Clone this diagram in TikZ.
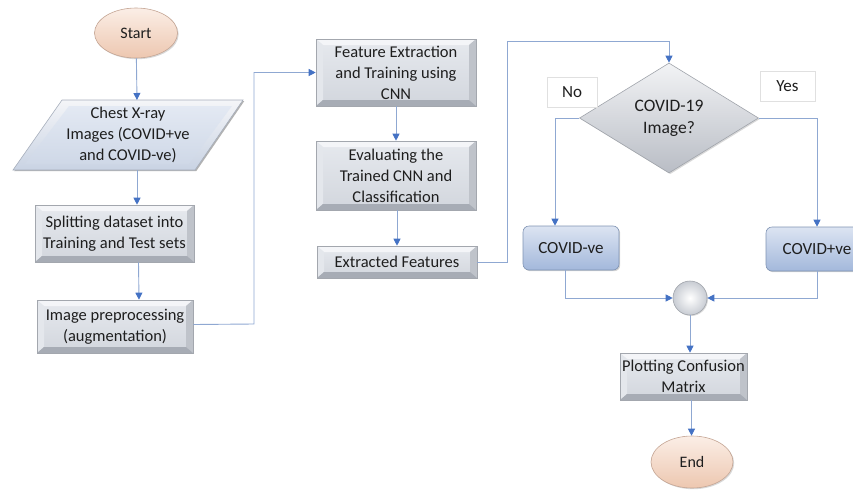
\documentclass[tikz,border=0pt]{standalone}
\usepackage{fontspec}
\setmainfont{Carlito}
\usetikzlibrary{shapes.geometric,arrows.meta,shadows}
\definecolor{lineblue}{HTML}{8FA8D2}
\definecolor{arrowblue}{HTML}{4472C4}
\definecolor{bvtop}{HTML}{F4F5F8}
\definecolor{bvleft}{HTML}{E4E7EC}
\definecolor{bvright}{HTML}{BFC3CA}
\definecolor{bvbot}{HTML}{A7ACB5}
\definecolor{faceA}{HTML}{E6E9EE}
\definecolor{faceB}{HTML}{D2D6DD}
\definecolor{boxline}{HTML}{A3A7AE}
\definecolor{txt}{HTML}{1E1E1E}
\definecolor{bluetop}{HTML}{DCE4F2}
\definecolor{bluebot}{HTML}{A3B8DB}
\definecolor{blueline}{HTML}{7F93B3}
\definecolor{peachA}{HTML}{FBEEE6}
\definecolor{peachB}{HTML}{EDC7B0}
\definecolor{peachline}{HTML}{C4A594}
\definecolor{paraB}{HTML}{C9D3E3}
\definecolor{paraFA}{HTML}{E3E9F3}
\definecolor{paraFB}{HTML}{CFD8E7}
\definecolor{paraline}{HTML}{A6AEBB}
\definecolor{diaA}{HTML}{F2F3F5}
\definecolor{diaB}{HTML}{B9BDC5}
\definecolor{diline}{HTML}{A0A4AB}
\definecolor{circB}{HTML}{C8CCD3}
\tikzset{
  bevel/.style={path picture={
    \path (path picture bounding box.north west) coordinate (bnw)
          (path picture bounding box.north east) coordinate (bne)
          (path picture bounding box.south west) coordinate (bsw)
          (path picture bounding box.south east) coordinate (bse);
    \fill[#1top] (bnw) -- (bne) -- ([shift={(-7pt,-6pt)}]bne) -- ([shift={(7pt,-6pt)}]bnw) -- cycle;
    \fill[#1left] (bnw) -- ([shift={(7pt,-6pt)}]bnw) -- ([shift={(7pt,6pt)}]bsw) -- (bsw) -- cycle;
    \fill[#1right] (bne) -- ([shift={(-7pt,-6pt)}]bne) -- ([shift={(-7pt,6pt)}]bse) -- (bse) -- cycle;
    \fill[#1bot] (bsw) -- ([shift={(7pt,6pt)}]bsw) -- ([shift={(-7pt,6pt)}]bse) -- (bse) -- cycle;
  }},
  boxfont/.style={font=\fontsize{16.5pt}{21pt}\selectfont},
  procbox/.style={rectangle, draw=boxline, line width=0.6pt, top color=faceA, bottom color=faceB,
    bevel=bv, align=center, text=txt, boxfont, inner sep=0pt,
    drop shadow={shadow xshift=1.2pt, shadow yshift=-1.2pt, opacity=0.35}},
  bluebox/.style={rectangle, rounded corners=6pt, draw=blueline, line width=0.6pt, top color=bluetop,
    bottom color=bluebot, align=center, text=txt, font=\fontsize{17pt}{21pt}\selectfont, inner sep=0pt,
    drop shadow={shadow xshift=1.2pt, shadow yshift=-1.2pt, opacity=0.35}},
  term/.style={ellipse, draw=peachline, line width=0.6pt, top color=peachA, bottom color=peachB,
    text=txt, font=\fontsize{16pt}{19pt}\selectfont, inner sep=0pt,
    drop shadow={shadow xshift=1.2pt, shadow yshift=-1.2pt, opacity=0.3}},
  lab/.style={rectangle, draw=black!12, line width=0.6pt, fill=white, text=txt,
    font=\fontsize{17pt}{20pt}\selectfont, inner sep=0pt},
  conn/.style={draw=lineblue, line width=0.9pt, -{Triangle[length=7pt,width=7pt,color=arrowblue]}},
}
\begin{document}
\begin{tikzpicture}[x=1pt,y=-1pt]
\useasboundingbox (0,0) rectangle (853,490);
\clip (0,0) rectangle (853,490);

% Start
\node[term, minimum width=83pt, minimum height=50pt] (start) at (136,33) {Start};

% Parallelogram input
\fill[black, opacity=0.3] (63.2,101.2) -- (244.2,101.2) -- (196.2,171.2) -- (14.2,171.2) -- cycle;
\shade[top color=bvtop, bottom color=paraB] (62,100) -- (243,100) -- (195,170) -- (13,170) -- cycle;
\shade[top color=paraFA, bottom color=paraFB] (69,106) -- (232,106) -- (189,164) -- (25,164) -- cycle;
\draw[draw=paraline, line width=0.6pt] (62,100) -- (243,100) -- (195,170) -- (13,170) -- cycle;
\node[align=center, text=txt, boxfont] (input) at (128,135) {Chest X-ray\\Images (COVID+ve\\ and COVID-ve)};
\coordinate (intop) at (137,100);
\coordinate (inbot) at (137,170);

% Left column boxes
\node[procbox, minimum width=159pt, minimum height=57pt] (split) at (114.5,233.5) {Splitting dataset into\\Training and Test sets};
\node[procbox, minimum width=156pt, minimum height=53pt] (prep) at (115,326.5) {Image preprocessing\\(augmentation)};

% Middle column
\node[procbox, minimum width=160pt, minimum height=67pt] (feat) at (396,72.5) {Feature Extraction\\and Training using\\CNN};
\node[procbox, minimum width=160pt, minimum height=69pt] (eval) at (396,175.5) {Evaluating the\\Trained CNN and\\Classification};
\node[procbox, minimum width=160pt, minimum height=32pt] (ext) at (397,262) {Extracted Features};

% Decision
\node[diamond, draw=diline, line width=0.6pt, top color=diaA, bottom color=diaB,
  minimum width=179pt, minimum height=110pt, inner sep=0pt, text=txt,
  align=center, font=\fontsize{17.5pt}{22pt}\selectfont,
  drop shadow={shadow xshift=1.2pt, shadow yshift=-1.2pt, opacity=0.3}] (dia) at (669,118) {COVID-19\\Image?};
\node[lab, minimum width=50pt, minimum height=30pt] (no) at (572,92) {No};
\node[lab, minimum width=55pt, minimum height=30pt] (yes) at (787.5,86) {Yes};

% Outcomes
\node[bluebox, minimum width=96pt, minimum height=44pt] (neg) at (571,248) {COVID-ve};
\node[bluebox, minimum width=102pt, minimum height=44pt] (pos) at (817,249) {COVID+ve};

% Merge circle
\node[circle, draw=diline, line width=0.6pt, inner color=white, outer color=circB,
  minimum size=34pt, inner sep=0pt,
  drop shadow={shadow xshift=1pt, shadow yshift=-1pt, opacity=0.3}] (merge) at (690,298) {};

\node[procbox, minimum width=127pt, minimum height=47pt] (plot) at (683.5,376.5) {Plotting Confusion\\Matrix};
\node[term, minimum width=82pt, minimum height=52pt] (end) at (692,462) {End};

% Connectors
\draw[conn] (start) -- (intop);
\draw[conn] (inbot) -- (split.north -| inbot);
\draw[conn] ([xshift=24pt]split.south) -- ([xshift=24pt]prep.north);
\draw[conn] ([yshift=2pt]prep.east) -- (254,324) |- (feat.west);
\draw[conn] (feat.south) -- (eval.north);
\draw[conn] ([xshift=1pt]eval.south) -- ([xshift=1pt]eval.south |- ext.north);
\draw[conn] (ext.east) -| (507,41) -| (dia.north);
\draw[conn] (dia.west) -| ([xshift=-16pt]neg.north);
\draw[conn] (dia.east) -| (pos.north);
\draw[conn] ([xshift=-6pt]neg.south) |- (merge.west);
\draw[conn] (pos.south) |- (merge.east);
\draw[conn] (merge.south) -- (merge.south |- plot.north);
\draw[conn] ([xshift=8pt]plot.south) -- ([xshift=8pt]plot.south |- end.north);
\end{tikzpicture}
\end{document}
